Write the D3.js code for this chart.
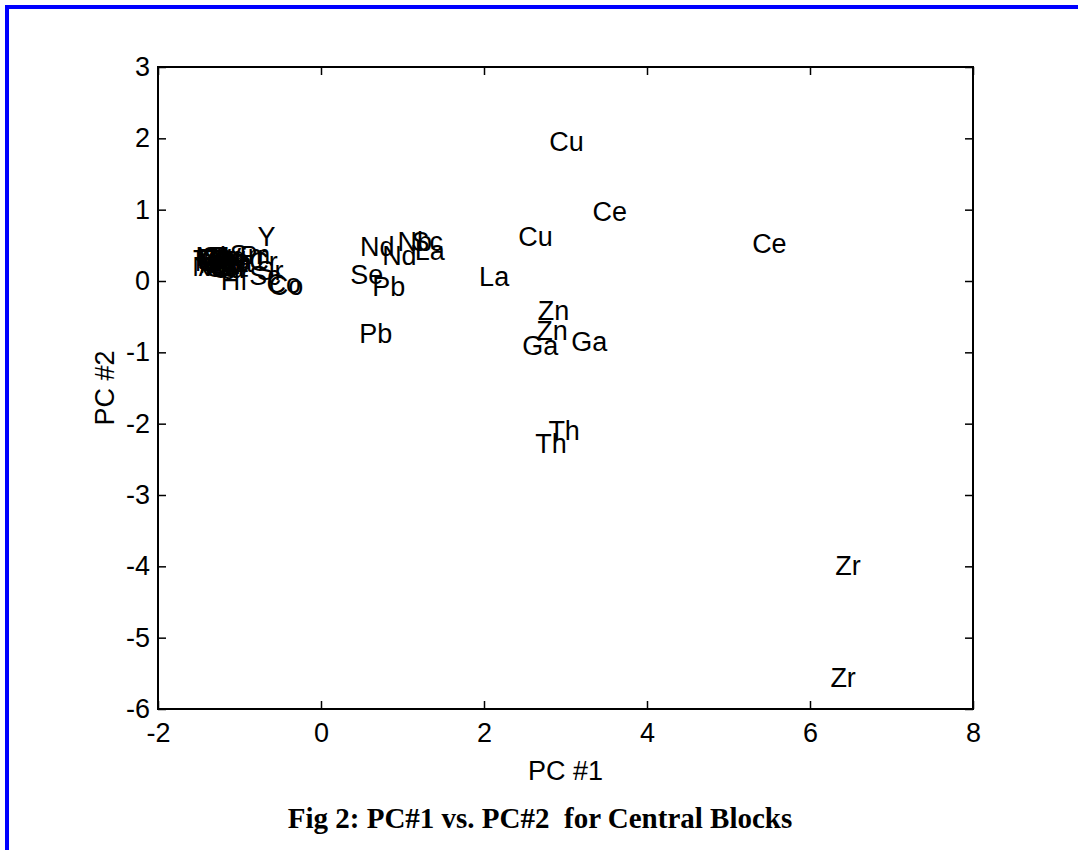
<!DOCTYPE html>
<html>
<head>
<meta charset="utf-8">
<script src="https://cdn.jsdelivr.net/npm/d3@7"></script>
<style>
  body { margin: 0; background: #fff; }
  svg text { font-family: "Liberation Sans", Arial, Helvetica, sans-serif; }
</style>
</head>
<body>
<div id="chart"></div>
<script>
// element labels and their scores on the first two principal components
const labels = [
  "Cu", "Ce", "Cu", "Ce", "La", "Zn", "Zn", "Ga", "Ga", "Th", "Th", "Zr", "Zr",
  "Pb", "Pb", "Se", "Nd", "Nd", "Nb", "Sc", "La",
  "Ti", "Mn", "Fe", "Mg", "Ca", "Na", "K", "Al", "Si", "Rb", "Ba", "V",
  "Ni", "Mo", "As", "Sb", "Cs", "Sn", "Ta", "Li", "Be", "Bi", "Ag", "Cd", "Sm",
  "Pr", "Cr", "Sr", "Sc", "Hf", "Co", "Co", "Y"
];
const pc1 = [
  2.80, 3.33, 2.42, 5.29, 1.94, 2.66, 2.64, 2.47, 3.07, 2.79, 2.63, 6.31, 6.25,
  0.47, 0.63, 0.36, 0.48, 0.75, 0.94, 1.11, 1.15,
  -1.57, -1.55, -1.52, -1.50, -1.48, -1.45, -1.40, -1.42, -1.38, -1.30, -1.25, -1.20,
  -1.58, -1.54, -1.50, -1.46, -1.43, -1.39, -1.35, -1.33, -1.28, -1.24, -1.32, -1.36, -1.12,
  -1.00, -0.88, -0.79, -0.88, -1.23, -0.67, -0.64, -0.78
];
const pc2 = [
  1.96, 0.98, 0.62, 0.53, 0.07, -0.41, -0.69, -0.90, -0.84, -2.09, -2.27, -3.98, -5.55,
  -0.73, -0.07, 0.09, 0.49, 0.36, 0.55, 0.56, 0.43,
  0.30, 0.28, 0.32, 0.25, 0.30, 0.27, 0.22, 0.33, 0.30, 0.28, 0.26, 0.33,
  0.20, 0.35, 0.21, 0.34, 0.19, 0.24, 0.34, 0.20, 0.31, 0.22, 0.35, 0.18, 0.37,
  0.36, 0.28, 0.15, 0.08, 0.01, -0.03, -0.06, 0.63
];
const xTicks = [-2, 0, 2, 4, 6, 8];
const yTicks = [-6, -5, -4, -3, -2, -1, 0, 1, 2, 3];

const width = 1078, height = 850;
const plot = { left: 158, top: 67, right: 973, bottom: 709 };
const fontSize = 27;
const tickLen = 8;

const svg = d3.select("#chart").append("svg")
  .attr("width", width)
  .attr("height", height);

// blue page frame (top and left edges)
svg.append("line")
  .attr("x1", 5).attr("x2", width).attr("y1", 7).attr("y2", 7)
  .attr("stroke", "#0000ff").attr("stroke-width", 4);
svg.append("line")
  .attr("x1", 7).attr("x2", 7).attr("y1", 5).attr("y2", height)
  .attr("stroke", "#0000ff").attr("stroke-width", 4);

const x = d3.scaleLinear().domain([-2, 8]).range([plot.left, plot.right]);
const y = d3.scaleLinear().domain([-6, 3]).range([plot.bottom, plot.top]);

// plain hyphen minus, as in the original figure
const fmt = d => String(d);

// inward ticks on all four sides, like a boxed matlab axis
const axisBottom = d3.axisBottom(x).tickValues(xTicks).tickFormat(fmt).tickSizeInner(-tickLen).tickSizeOuter(0).tickPadding(14);
const axisLeft = d3.axisLeft(y).tickValues(yTicks).tickFormat(fmt).tickSizeInner(-tickLen).tickSizeOuter(0).tickPadding(8);
const axisTop = d3.axisTop(x).tickValues(xTicks).tickSizeInner(-tickLen).tickSizeOuter(0).tickFormat("");
const axisRight = d3.axisRight(y).tickValues(yTicks).tickSizeInner(-tickLen).tickSizeOuter(0).tickFormat("");

function styleAxis(g) {
  g.select(".domain").remove();
  g.selectAll(".tick line").attr("stroke", "#000").attr("stroke-width", 1.5);
  g.selectAll(".tick text")
    .attr("fill", "#000")
    .attr("font-size", fontSize)
    .attr("font-family", '"Liberation Sans", Arial, sans-serif');
}

svg.append("g").attr("transform", `translate(0,${plot.bottom})`).call(axisBottom).call(styleAxis);
svg.append("g").attr("transform", `translate(${plot.left},0)`).call(axisLeft).call(styleAxis);
svg.append("g").attr("transform", `translate(0,${plot.top})`).call(axisTop).call(styleAxis);
svg.append("g").attr("transform", `translate(${plot.right},0)`).call(axisRight).call(styleAxis);

svg.append("rect")
  .attr("x", plot.left).attr("y", plot.top)
  .attr("width", plot.right - plot.left)
  .attr("height", plot.bottom - plot.top)
  .attr("fill", "none")
  .attr("stroke", "#000")
  .attr("stroke-width", 2);

// point labels: left aligned, vertically centred on the point
svg.append("g")
  .selectAll("text")
  .data(labels.map((d, i) => ({ name: d, px: pc1[i], py: pc2[i] })))
  .join("text")
  .attr("x", d => x(d.px))
  .attr("y", d => y(d.py))
  .attr("dy", "0.36em")
  .attr("font-size", fontSize)
  .attr("fill", "#000")
  .text(d => d.name);

// axis titles
svg.append("text")
  .attr("x", (plot.left + plot.right) / 2)
  .attr("y", 770)
  .attr("dy", "0.36em")
  .attr("text-anchor", "middle")
  .attr("font-size", fontSize)
  .text("PC #1");

svg.append("text")
  .attr("transform", `translate(104,${(plot.top + plot.bottom) / 2}) rotate(-90)`)
  .attr("dy", "0.36em")
  .attr("text-anchor", "middle")
  .attr("font-size", fontSize)
  .text("PC #2");

// figure caption
svg.append("text")
  .attr("x", 540)
  .attr("y", 828)
  .attr("text-anchor", "middle")
  .attr("font-size", 29)
  .attr("font-weight", "bold")
  .style("font-family", '"Liberation Serif", "Times New Roman", serif')
  .style("white-space", "pre")
  .attr("xml:space", "preserve")
  .text("Fig 2: PC#1 vs. PC#2  for Central Blocks");
</script>
</body>
</html>
